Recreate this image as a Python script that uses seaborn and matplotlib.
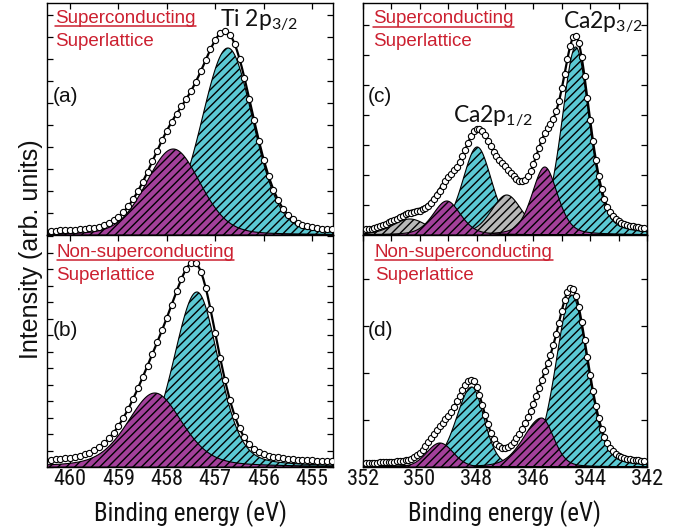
import numpy as np
import matplotlib
matplotlib.use('Agg')
import matplotlib.pyplot as plt
from matplotlib.lines import Line2D
from matplotlib.ticker import MultipleLocator
import seaborn as sns

sns.set_theme(style='white')
plt.rcParams['font.family'] = ['Liberation Sans', 'DejaVu Sans']
plt.rcParams['mathtext.fontset'] = 'custom'
plt.rcParams['mathtext.rm'] = 'Lato'
plt.rcParams['mathtext.it'] = 'Lato:italic'
plt.rcParams['mathtext.bf'] = 'Lato:bold'
plt.rcParams['hatch.linewidth'] = 1.0

CYAN, PURPLE, GRAY, RED = '#5BC9D3', '#A3409A', '#B8B8B8', '#CC2030'
COL = {'cyan': CYAN, 'purple': PURPLE, 'gray': GRAY}
ORDER = {'cyan': 0, 'gray': 1, 'purple': 2}

# ---------------- measured spectra (binding energy scan, intensity arb. units) ----------
ti_be = np.round(np.arange(460.4, 454.55, -0.1), 2)
ca_be = np.round(np.arange(351.9, 342.05, -0.1), 2)

a_counts = [4, 4, 5, 5, 5, 5, 6, 6, 7, 7, 8, 10, 12, 15, 18, 23, 29, 36, 44, 53,
            63, 74, 84, 95, 104, 113, 121, 129, 136, 144, 153, 164, 175, 186, 195, 202, 204, 200, 191, 176,
            157, 136, 115, 94, 75, 59, 45, 35, 26, 20, 16, 12, 10, 9, 8, 7, 6, 6, 6]
b_counts = [7, 8, 8, 9, 9, 10, 11, 13, 14, 17, 20, 24, 29, 34, 41, 49, 58, 68, 79, 90,
            101, 113, 125, 137, 149, 162, 176, 188, 198, 204, 204, 195, 179, 158, 134, 109, 87, 67, 51, 39,
            30, 23, 18, 15, 13, 11, 10, 10, 9, 8, 8, 7, 7, 7, 7, 6, 6, 6, 6]
c_counts = [6, 6, 6, 7, 8, 9, 10, 11, 13, 14, 15, 16, 18, 19, 21, 22, 22, 23, 24, 24,
            26, 27, 29, 32, 36, 40, 44, 49, 54, 58, 61, 65, 68, 73, 79, 85, 92, 99, 104, 106,
            106, 104, 100, 94, 89, 83, 79, 75, 72, 69, 65, 62, 59, 56, 54, 54, 55, 59, 64, 71,
            79, 87, 95, 102, 107, 111, 116, 124, 134, 147, 161, 176, 189, 198, 199, 192, 178, 159, 137, 115,
            94, 75, 59, 46, 36, 28, 23, 19, 16, 14, 12, 11, 10, 9, 9, 8, 8, 7, 7]
d_counts = [4, 4, 4, 4, 4, 5, 5, 5, 5, 5, 5, 6, 6, 6, 7, 7, 8, 10, 12, 14,
            17, 21, 25, 29, 33, 37, 41, 44, 48, 51, 55, 60, 66, 71, 77, 82, 86, 87, 86, 80,
            72, 62, 52, 43, 34, 28, 23, 21, 19, 19, 20, 22, 25, 29, 33, 38, 44, 50, 56, 63,
            71, 79, 87, 96, 104, 112, 122, 133, 144, 156, 167, 175, 179, 178, 171, 160, 145, 127, 110, 92,
            76, 61, 49, 38, 30, 24, 19, 16, 13, 11, 10, 9, 8, 8, 7, 7, 7, 6, 6]

# ---------------- fitted components (centre eV, height, half widths, Lorentz fraction) ---
a_center = [456.74, 457.87]; a_height = [187, 86]
a_hw_hi = [0.65, 0.66]; a_hw_lo = [0.62, 0.66]; a_eta = [0.2, 0.2]; a_kind = ['cyan', 'purple']; a_bg = 2
b_center = [457.38, 458.25]; b_height = [175, 74]
b_hw_hi = [0.58, 0.67]; b_hw_lo = [0.53, 0.67]; b_eta = [0.3, 0.35]; b_kind = ['cyan', 'purple']; b_bg = 3
c_center = [344.51, 347.98, 346.94, 350.35, 345.60, 349.05]; c_height = [188, 88, 40, 16, 68, 34]
c_hw_hi = [0.58, 0.62, 0.65, 0.73, 0.53, 0.58]; c_hw_lo = [0.58, 0.62, 0.65, 0.73, 0.53, 0.58]
c_eta = [0.35] * 6; c_kind = ['cyan', 'cyan', 'gray', 'gray', 'purple', 'purple']; c_bg = 2
d_center = [344.65, 348.17, 345.71, 349.29]; d_height = [172, 80, 49, 24]
d_hw_hi = [0.66, 0.65, 0.75, 0.55]; d_hw_lo = [0.66, 0.52, 0.50, 0.55]
d_eta = [0.25, 0.25, 0.25, 0.1]; d_kind = ['cyan', 'cyan', 'purple', 'purple']; d_bg = 3

ti_ticks = [460, 459, 458, 457, 456, 455]
ca_ticks = [352, 350, 348, 346, 344, 342]


def pv(x, c, h, hi, lo, eta):
    hw = np.where(x >= c, hi, lo)
    u = ((x - c) / hw) ** 2
    return h * ((1 - eta) * np.exp(-np.log(2) * u) + eta / (1 + u))


W, H = 681, 532
fig = plt.figure(figsize=(W / 100, H / 100), dpi=100)


def add_ax(x0, y0, x1, y1):
    return fig.add_axes([x0 / W, 1 - y1 / H, (x1 - x0) / W, (y1 - y0) / H])


panels = [
    (add_ax(47.3, 3, 333, 235), ti_be, a_counts, a_center, a_height, a_hw_hi, a_hw_lo, a_eta, a_kind, a_bg, (460.47, 454.57), 22, False),
    (add_ax(47.3, 235, 333, 467), ti_be, b_counts, b_center, b_height, b_hw_hi, b_hw_lo, b_eta, b_kind, b_bg, (460.47, 454.57), 16.5, True),
    (add_ax(363, 3, 647, 235), ca_be, c_counts, c_center, c_height, c_hw_hi, c_hw_lo, c_eta, c_kind, c_bg, (352, 342), 30, False),
    (add_ax(363, 235, 647, 467), ca_be, d_counts, d_center, d_height, d_hw_hi, d_hw_lo, d_eta, d_kind, d_bg, (352, 342), 47, True),
]

for ax, be, counts, cen, hgt, hi, lo, eta, kind, bg, xl, ystep, bottom in panels:
    g = np.linspace(min(xl), max(xl), 900)
    total = np.full_like(g, bg, dtype=float)
    for i in sorted(range(len(cen)), key=lambda k: ORDER[kind[k]]):
        y = pv(g, cen[i], hgt[i], hi[i], lo[i], eta[i])
        ax.fill_between(g, 0, y, facecolor=COL[kind[i]], edgecolor='black', hatch='////',
                        linewidth=0.8, zorder=1 + ORDER[kind[i]])
    for i in range(len(cen)):
        total += pv(g, cen[i], hgt[i], hi[i], lo[i], eta[i])
    sns.lineplot(x=g, y=total, ax=ax, color='black', lw=1.6, zorder=5, sort=False)
    sns.scatterplot(x=be, y=counts, ax=ax, marker='o', s=20, facecolor='white',
                    edgecolor='black', linewidth=0.8, zorder=6)
    ax.set_xlim(*xl)
    ax.set_ylim(0, 232)
    ax.set_xlabel('')
    ax.set_ylabel('')
    if xl[0] > 400:
        ax.xaxis.set_major_locator(MultipleLocator(1))
    else:
        ax.xaxis.set_major_locator(MultipleLocator(2))
        ax.xaxis.set_minor_locator(MultipleLocator(1))
    ax.yaxis.set_major_locator(MultipleLocator(ystep))
    ax.tick_params(which='both', direction='in', top=True, right=True, bottom=True, left=True,
                   length=4.5, width=0.9, color='black', labelleft=False, labelbottom=bottom,
                   labelsize=16, labelcolor='#111111', pad=1.5, labelfontfamily='Roboto Condensed')
    for s in ax.spines.values():
        s.set_color('black')
        s.set_linewidth(1.0)
    if bottom:
        ax.set_xlabel('Binding energy (eV)', fontsize=18, family='Roboto Condensed', color='#111111')
        ax.xaxis.set_label_coords(0.5, -0.145)

axA, axB, axC, axD = [p[0] for p in panels]
if True:
    axA.set_xticks(ti_ticks); axB.set_xticks(ti_ticks)
    axC.set_xticks(ca_ticks); axD.set_xticks(ca_ticks)


def fp(px, py):
    return px / W, 1 - py / H


fig.text(*fp(31, 249.5), 'Intensity (arb. units)', rotation=90, ha='center', va='center',
         fontsize=18, color='#111111')

red_labels = [
    ('Superconducting', 55, 22.7, True), ('Superlattice', 55, 46.5, False),
    ('Non-superconducting', 56.5, 256.7, True), ('Superlattice', 56.5, 279.5, False),
    ('Superconducting', 373, 23.3, True), ('Superlattice', 373, 45.5, False),
    ('Non-superconducting', 375, 256.7, True), ('Superlattice', 375, 280, False),
]
underlined = []
for txt, px, py, ul in red_labels:
    t = fig.text(*fp(px, py), txt, color=RED, fontsize=13.5, ha='left', va='baseline')
    if ul:
        underlined.append((t, px, py))

for txt, px, py in [('(a)', 53, 102), ('(b)', 53, 336), ('(c)', 368, 102), ('(d)', 368, 336)]:
    fig.text(*fp(px, py), txt, fontsize=15, ha='left', va='baseline', color='#111111')

fig.text(*fp(220, 26), r'Ti 2p$_{\mathrm{3/2}}$', family='Lato', fontsize=16.5, ha='left', va='baseline', color='#111111')
axC.text(*fp(563, 28.3), r'Ca2p$_{\mathrm{3/2}}$', transform=fig.transFigure, family='Lato', fontsize=16.5,
         ha='left', va='baseline', color='#111111', clip_on=True, zorder=10)
axC.text(*fp(453, 122.5), r'Ca2p$_{\mathrm{1/2}}$', transform=fig.transFigure, family='Lato', fontsize=16.5,
         ha='left', va='baseline', color='#111111', zorder=10)

fig.canvas.draw()
for t, px, py in underlined:
    bb = t.get_window_extent()
    yy = 1 - (py + 3.2) / H
    fig.add_artist(Line2D([bb.x0 / W, bb.x1 / W], [yy, yy], transform=fig.transFigure,
                          color=RED, lw=1.1))

fig.savefig('out.png', dpi=100)
